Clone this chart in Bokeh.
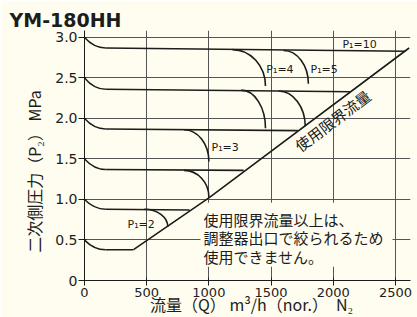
import math
from bokeh.plotting import figure
from bokeh.models import FixedTicker
from bokeh.core.properties import value
from bokeh.embed import file_html
from bokeh.resources import INLINE

# ---------------- data ----------------
title_text = "YM-180HH"
x_ticks = [0, 500, 1000, 1500, 2000, 2500]
x_tick_labels = ["0", "500", "1000", "1500", "2000", "2500"]
y_ticks = [0, 0.5, 1.0, 1.5, 2.0, 2.5, 3.0]
y_tick_labels = ["0", "0.5", "1.0", "1.5", "2.0", "2.5", "3.0"]
x_label = "流量（Q） m³/h（nor.）"
gas_label = "N₂"
y_label = "二次側圧力（P₂） MPa"

# set pressures (rows): start at Q=0, knee to plateau, then run to the limit line
set_p = [3.0, 2.5, 2.0, 1.5, 1.0, 0.5]
knee_q = [170, 170, 170, 170, 170, 170]
knee_p = [2.87, 2.36, 1.87, 1.37, 0.88, 0.38]
row_end_q = [2580, 2140, 1715, 1280, 845, 394]
row_end_p = [2.83, 2.33, 1.85, 1.36, 0.87, 0.38]

# inlet-pressure (P1) branches falling off the plateaus
br_start_q = [1190, 1600, 1260, 1560, 800, 800, 480]
br_start_p = [2.85, 2.84, 2.35, 2.34, 1.86, 1.36, 0.88]
br_end_q = [1455, 1800, 1455, 1775, 1000, 1000, 670]
br_end_p = [2.40, 2.43, 1.88, 1.90, 1.47, 1.03, 0.66]

# usage limit flow line
limit_q = [394, 1000, 2610]
limit_p = [0.38, 1.02, 2.87]

p1_labels = ["P₁=10", "P₁=4", "P₁=5", "P₁=3", "P₁=2"]
p1_label_q = [2074, 1462, 1817, 1021, 346]
p1_label_p = [2.91, 2.60, 2.60, 1.64, 0.69]

limit_text = "使用限界流量"
note_lines = ["使用限界流量以上は、", "調整器出口で絞られるため", "使用できません。"]

# ---------------- styling ----------------
BG = "#FFFDEF"
INK = "#1c1c1c"
GRID = "#555555"
JP = "Noto Sans CJK JP"

p = figure(frame_width=326, frame_height=250, x_range=(0, 2621), y_range=(0, 3.086),
           output_backend="svg", toolbar_location=None,
           min_border_left=84, min_border_right=7, min_border_top=30, min_border_bottom=37)
p.background_fill_color = BG
p.border_fill_color = BG
p.outline_line_color = None

# title
p.title.text = title_text
p.title.text_font = "DejaVu Sans"
p.title.text_font_style = "bold"
p.title.text_font_size = "19px"
p.title.text_color = INK
p.title.align = "left"
p.title.offset = -75
p.title.standoff = 0

# axes
for ax, ticks, labels in ((p.xaxis[0], x_ticks, x_tick_labels), (p.yaxis[0], y_ticks, y_tick_labels)):
    ax.ticker = FixedTicker(ticks=ticks)
    ax.major_label_overrides = {t: l for t, l in zip(ticks, labels)}
    ax.minor_tick_line_color = None
    ax.axis_line_color = INK
    ax.major_tick_line_color = INK
    ax.major_label_text_font = "DejaVu Sans"
    ax.major_label_text_color = INK
    ax.axis_label_text_font = JP
    ax.axis_label_text_font_size = "16px"
    ax.axis_label_text_font_style = "normal"
    ax.axis_label_text_color = INK

p.xaxis.major_label_text_font_size = "13px"
p.xaxis.major_tick_in = 3
p.xaxis.major_tick_out = 5
p.xaxis.major_label_standoff = 2
p.xaxis.axis_label = "\u2002" + x_label + "\u3000" + gas_label
p.xaxis.axis_label_standoff = -8

p.yaxis.major_label_text_font_size = "14px"
p.yaxis.major_tick_in = 2
p.yaxis.major_tick_out = 6
p.yaxis.major_label_standoff = 1
p.yaxis.axis_label = y_label + "\u3000\u3000"
p.yaxis.axis_label_standoff = 6

p.xgrid.ticker = FixedTicker(ticks=x_ticks)
p.ygrid.ticker = FixedTicker(ticks=y_ticks)
for g in (p.xgrid[0], p.ygrid[0]):
    g.grid_line_color = GRID
    g.grid_line_width = 1

# note box (covers the grid)
p.quad(left=[932], right=[2476], bottom=[0.17], top=[0.96], fill_color=BG, line_color=None)

LW = 1.6
# knee from set pressure to plateau
p.quadratic(x0=[0] * len(set_p), y0=set_p, x1=knee_q, y1=knee_p,
            cx=[q * 0.45 for q in knee_q], cy=knee_p, line_color=INK, line_width=LW)
# plateaus
p.segment(x0=knee_q, y0=knee_p, x1=row_end_q, y1=row_end_p, line_color=INK, line_width=LW)
# P1 branches (quarter-ellipse like fall-off)
k = 0.55
cx0 = [a + k * (b - a) for a, b in zip(br_start_q, br_end_q)]
cy1 = [b + k * (a - b) for a, b in zip(br_start_p, br_end_p)]
p.bezier(x0=br_start_q, y0=br_start_p, x1=br_end_q, y1=br_end_p,
         cx0=cx0, cy0=br_start_p, cx1=br_end_q, cy1=cy1, line_color=INK, line_width=LW)
# limit line
p.line(limit_q, limit_p, line_color=INK, line_width=LW)

# P1 labels
p.text(x=p1_label_q, y=p1_label_p, text=p1_labels, text_font=value("DejaVu Sans"), text_font_size="11px",
       text_align="left", text_baseline="middle", text_color=INK)

# text along limit line
p.text(x=[1994], y=[1.975], text=[limit_text], angle=math.radians(37),
       text_font=value(JP), text_font_size="15px", text_align="center",
       text_baseline="middle", text_color=INK)

# note text
p.text(x=[957] * 3, y=[0.75, 0.525, 0.30], text=note_lines, text_font=value(JP),
       text_font_size="15px", text_align="left", text_baseline="middle", text_color=INK)

open("out.html", "w").write(file_html(p, INLINE))
